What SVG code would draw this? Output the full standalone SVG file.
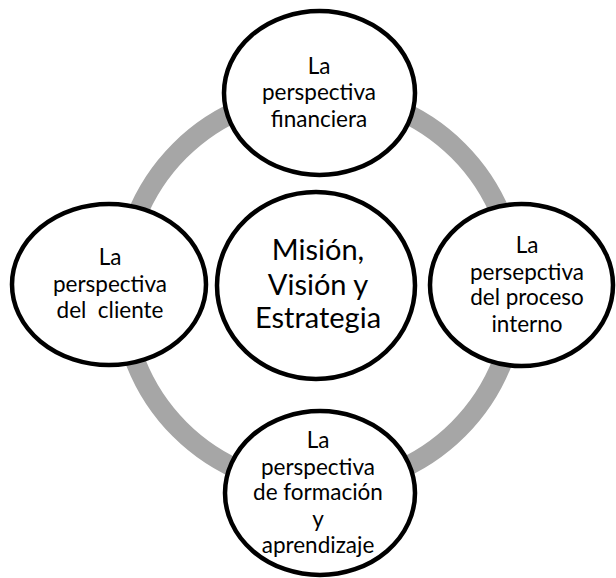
<svg xmlns="http://www.w3.org/2000/svg" width="616" height="578" viewBox="0 0 616 578">
  <style>
    .node { fill: #ffffff; stroke: #000000; stroke-width: 4.5; }
    .lbl { font-family: Lato, "Liberation Sans", sans-serif; font-size: 22.5px; fill: #000000; text-anchor: middle; }
    .big { font-size: 29px; }
    .ring { fill: none; stroke: #a6a6a6; stroke-width: 20; }
  </style>
  <rect width="616" height="578" fill="#ffffff"/>

  <!-- cycle ring joining the perspectives -->
  <g id="connectors">
    <circle class="ring" cx="319" cy="290" r="197"/>
  </g>

  <g id="financiera">
    <ellipse class="node" cx="319.5" cy="93" rx="95.5" ry="82"/>
    <text class="lbl" x="319" y="74">La</text>
    <text class="lbl" x="319" y="100">perspectiva</text>
    <text class="lbl" x="319" y="127">financiera</text>
  </g>

  <g id="cliente">
    <ellipse class="node" cx="109" cy="284.5" rx="97" ry="80.5"/>
    <text class="lbl" x="110" y="265">La</text>
    <text class="lbl" x="110" y="292">perspectiva</text>
    <text class="lbl" x="110" y="318" xml:space="preserve">del  cliente</text>
  </g>

  <g id="proceso">
    <ellipse class="node" cx="521.5" cy="285" rx="91.5" ry="81"/>
    <text class="lbl" x="527" y="253">La</text>
    <text class="lbl" x="527" y="280">persepctiva</text>
    <text class="lbl" x="527" y="305">del proceso</text>
    <text class="lbl" x="527" y="332">interno</text>
  </g>

  <g id="formacion">
    <ellipse class="node" cx="320" cy="493" rx="95" ry="82"/>
    <text class="lbl" x="318" y="448">La</text>
    <text class="lbl" x="318" y="475">perspectiva</text>
    <text class="lbl" x="318" y="500">de formación</text>
    <text class="lbl" x="318" y="527">y</text>
    <text class="lbl" x="318" y="553">aprendizaje</text>
  </g>

  <g id="centro">
    <ellipse class="node" cx="316" cy="285.5" rx="99" ry="93.5"/>
    <text class="lbl big" x="318" y="260">Misión,</text>
    <text class="lbl big" x="318" y="295">Visión y</text>
    <text class="lbl big" x="318" y="328">Estrategia</text>
  </g>
</svg>
